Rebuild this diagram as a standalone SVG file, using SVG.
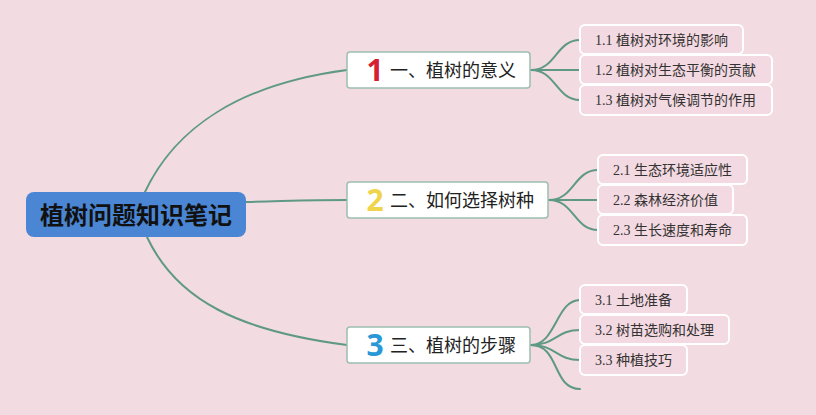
<svg xmlns="http://www.w3.org/2000/svg" width="816" height="415" viewBox="0 0 816 415">
<style>
.bg{fill:#f3dbe2}
.conn{fill:none;stroke:#5f9985;stroke-width:2;stroke-linecap:round}
.root{fill:#4a86d4}
.rootText{font-family:"Noto Sans CJK SC","Noto Sans",sans-serif;font-size:24px;font-weight:bold;fill:#111;text-anchor:middle}
.main{fill:#ffffff;stroke:#9dbfb0;stroke-width:1.5}
.mainText{font-family:"Noto Sans CJK SC","Noto Sans",sans-serif;font-size:18px;fill:#222}
.num{font-family:"Noto Sans","Liberation Sans",sans-serif;font-size:30px;font-weight:bold;text-anchor:middle}
.sub{fill:#f3d9e1;stroke:#ffffff;stroke-width:2}
.subText{font-family:"Liberation Serif","Noto Sans CJK SC",serif;font-size:14px;fill:#333}
</style>
<rect class="bg" x="0" y="0" width="816" height="415"/>
<g id="connectors">
<path class="conn" d="M145,192 C175,128 240,84 347,70"/>
<path class="conn" d="M246,202 C290,201 310,200 347,200"/>
<path class="conn" d="M147,237 C177,301 240,331 347,345"/>
<path class="conn" d="M531,70 C556,70 556,40 580,40"/>
<path class="conn" d="M531,70 L580,70"/>
<path class="conn" d="M531,70 C556,70 556,100 580,100"/>
<path class="conn" d="M549,200 C574,200 574,170 598,170"/>
<path class="conn" d="M549,200 L598,200"/>
<path class="conn" d="M549,200 C574,200 574,230 598,230"/>
<path class="conn" d="M531,345 C556,345 556,300 580,300"/>
<path class="conn" d="M531,345 C556,345 556,330 580,330"/>
<path class="conn" d="M531,345 C556,345 556,360 580,360"/>
<path class="conn" d="M531,345 C560,345 552,389 580,389"/>
</g>
<g id="root">
<rect class="root" x="26" y="192" width="220" height="45" rx="8"/>
<text class="rootText" x="136" y="224">植树问题知识笔记</text>
</g>
<g id="n1">
<rect class="main" x="347" y="52" width="183" height="36" rx="3"/>
<text class="num" x="375" y="81" fill="#d42030">1</text>
<text class="mainText" x="390" y="77">一、植树的意义</text>
</g>
<g id="n2">
<rect class="main" x="347" y="182" width="201" height="36" rx="3"/>
<text class="num" x="375" y="211" fill="#f0d44c">2</text>
<text class="mainText" x="390" y="207">二、如何选择树种</text>
</g>
<g id="n3">
<rect class="main" x="347" y="327" width="183" height="36" rx="3"/>
<text class="num" x="375" y="356" fill="#2a98d6">3</text>
<text class="mainText" x="390" y="352">三、植树的步骤</text>
</g>
<g id="n1-1"><rect class="sub" x="580" y="25" width="163" height="29" rx="5"/><text class="subText" x="595" y="45">1.1 植树对环境的影响</text></g>
<g id="n1-2"><rect class="sub" x="580" y="55" width="192" height="29" rx="5"/><text class="subText" x="595" y="75">1.2 植树对生态平衡的贡献</text></g>
<g id="n1-3"><rect class="sub" x="580" y="85" width="192" height="30" rx="5"/><text class="subText" x="595" y="105">1.3 植树对气候调节的作用</text></g>
<g id="n2-1"><rect class="sub" x="598" y="155" width="149" height="29" rx="5"/><text class="subText" x="613" y="175">2.1 生态环境适应性</text></g>
<g id="n2-2"><rect class="sub" x="598" y="185" width="135" height="29" rx="5"/><text class="subText" x="613" y="205">2.2 森林经济价值</text></g>
<g id="n2-3"><rect class="sub" x="598" y="215" width="149" height="30" rx="5"/><text class="subText" x="613" y="235">2.3 生长速度和寿命</text></g>
<g id="n3-1"><rect class="sub" x="580" y="285" width="107" height="29" rx="5"/><text class="subText" x="595" y="305">3.1 土地准备</text></g>
<g id="n3-2"><rect class="sub" x="580" y="315" width="149" height="29" rx="5"/><text class="subText" x="595" y="335">3.2 树苗选购和处理</text></g>
<g id="n3-3"><rect class="sub" x="580" y="345" width="107" height="30" rx="5"/><text class="subText" x="595" y="365">3.3 种植技巧</text></g>
</svg>
